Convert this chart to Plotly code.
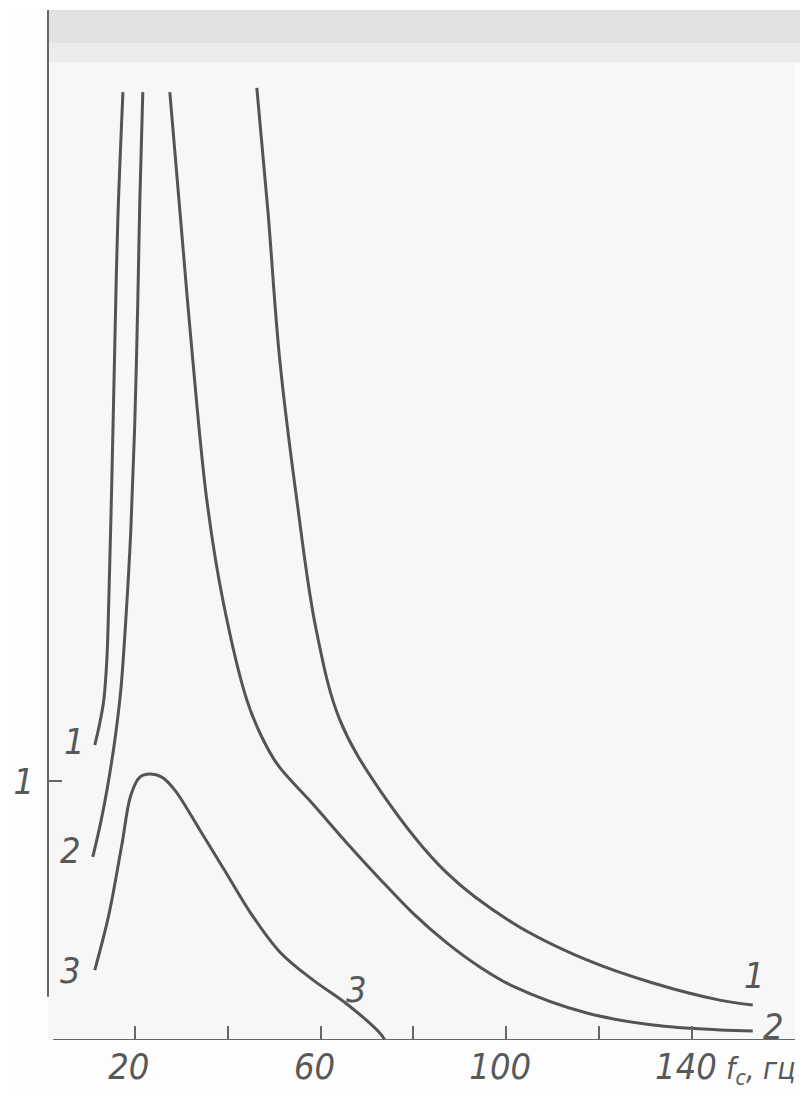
import plotly.graph_objects as go

# ---- data ----
# curve 1, low-frequency branch
c1a_f = [11.37, 12.45, 13.31, 13.96, 14.39, 15.04, 15.68, 16.33, 17.43]
c1a_y = [1.139, 1.224, 1.313, 1.467, 1.699, 2.162, 2.683, 3.166, 3.660]
# curve 1, high-frequency branch
c1b_f = [46.27, 48.64, 51.22, 54.89, 58.98, 64.15, 72.77, 87.2, 101.42, 117.36, 131.58, 146.0, 153.1]
c1b_y = [3.676, 3.205, 2.625, 2.085, 1.591, 1.236, 0.965, 0.645, 0.452, 0.309, 0.220, 0.154, 0.135]
# curve 2, low-frequency branch
c2a_f = [10.94, 12.67, 14.18, 15.69, 16.97, 18.05, 19.13, 20.0, 20.64, 21.07, 21.71]
c2a_y = [0.707, 0.842, 0.985, 1.158, 1.351, 1.622, 1.969, 2.394, 2.857, 3.243, 3.660]
# curve 2, high-frequency branch
c2b_f = [27.53, 29.68, 32.48, 35.5, 38.95, 44.12, 47.35, 50.79, 58.34, 65.66, 72.77, 79.88, 87.2,
         94.31, 101.42, 117.36, 131.58, 146.0, 153.1]
c2b_y = [3.660, 3.205, 2.625, 2.085, 1.699, 1.313, 1.170, 1.062, 0.911, 0.761, 0.622, 0.490, 0.375,
         0.282, 0.208, 0.104, 0.058, 0.039, 0.035]
# curve 3
c3_f = [11.37, 14.39, 17.19, 19.13, 21.07, 23.22, 25.81, 28.61, 34.0, 39.81, 44.77, 51.22,
        58.34, 65.66, 72.77, 73.85]
c3_y = [0.270, 0.483, 0.753, 0.945, 1.015, 1.027, 1.015, 0.965, 0.811, 0.641, 0.495, 0.340,
        0.232, 0.139, 0.027, 0.0]

x_ticks = [20, 60, 100, 140]
x_tick_text = ["20", "60", "100", "140"]
x_minor_ticks = [40, 80, 120]
y_ticks = [1]
y_tick_text = ["1"]
x_title = "f<sub>c</sub>, гц"

# ---- style ----
LINE = "#545454"
TXT = "#585858"
FONT = "DejaVu Sans Condensed, DejaVu Sans, sans-serif"

fig = go.Figure()
for fx, fy in [(c1a_f, c1a_y), (c1b_f, c1b_y), (c2a_f, c2a_y),
               (c2b_f, c2b_y), (c3_f, c3_y)]:
    fig.add_trace(go.Scatter(x=fx, y=fy, mode="lines",
                             line=dict(color=LINE, width=3, shape="spline", smoothing=1.0),
                             hoverinfo="skip", showlegend=False))

lab_font = dict(family=FONT, size=36, color=TXT, style="italic")
labels = [
    ("1", c1a_f[0], c1a_y[0], -20, 4),
    ("2", c2a_f[0], c2a_y[0], -22, 6),
    ("3", c3_f[0], c3_y[0], -24, 0),
    ("1", c1b_f[-1], c1b_y[-1], 2, 30),
    ("2", c2b_f[-1], c2b_y[-1], 21, 4),
    ("3", c3_f[-3], c3_y[-3], 10, 15),
]
for t, ax_, ay_, dx, dy in labels:
    fig.add_annotation(x=ax_, y=ay_, text=t, showarrow=False, xshift=dx, yshift=dy,
                       font=lab_font, xanchor="center", yanchor="middle")

fig.add_annotation(x=147.0, xref="x", y=-0.03, yref="paper", text=x_title,
                   showarrow=False, xanchor="left", yanchor="middle",
                   font=dict(family=FONT, size=30, color=TXT, style="italic"))

# scan shading at the top and hand-drawn axis lines
fig.add_shape(type="rect", xref="paper", yref="paper", x0=0, x1=1.02, y0=0.968, y1=1.0,
              fillcolor="#e2e2e2", line_width=0, layer="below")
fig.add_shape(type="rect", xref="paper", yref="paper", x0=0, x1=1.02, y0=0.949, y1=0.968,
              fillcolor="#ececec", line_width=0, layer="below")
fig.add_shape(type="line", xref="paper", yref="paper", x0=0, x1=0, y0=0.042, y1=1.0,
              line=dict(color="#666666", width=2))
fig.add_shape(type="line", xref="paper", yref="y", x0=0.007, x1=1.0, y0=0, y1=0,
              line=dict(color="#666666", width=2))

tick_font = dict(family=FONT, size=36, color=TXT, style="italic")
fig.update_layout(
    width=792, height=1086,
    margin=dict(l=40, r=5, t=2, b=54),
    paper_bgcolor="#fdfdfd", plot_bgcolor="#f7f7f7",
    xaxis=dict(range=[1.29, 162.2], showgrid=False, zeroline=False, showline=False,
               automargin=False,
               tickmode="array", tickvals=x_ticks, ticktext=x_tick_text,
               ticks="inside", ticklen=14, tickwidth=1.5, tickcolor="#666666",
               tickfont=tick_font, ticklabelstandoff=2, ticklabelshift=-6,
               minor=dict(tickmode="array", tickvals=x_minor_ticks, ticks="inside",
                          ticklen=14, tickwidth=1.5, tickcolor="#666666", showgrid=False)),
    yaxis=dict(range=[0, 3.977], showgrid=False, zeroline=False, showline=False,
               automargin=False,
               tickmode="array", tickvals=y_ticks, ticktext=y_tick_text,
               ticks="inside", ticklen=14, tickwidth=1.5, tickcolor="#666666",
               tickfont=tick_font, ticklabelstandoff=13),
)

fig.write_html("out.html")
